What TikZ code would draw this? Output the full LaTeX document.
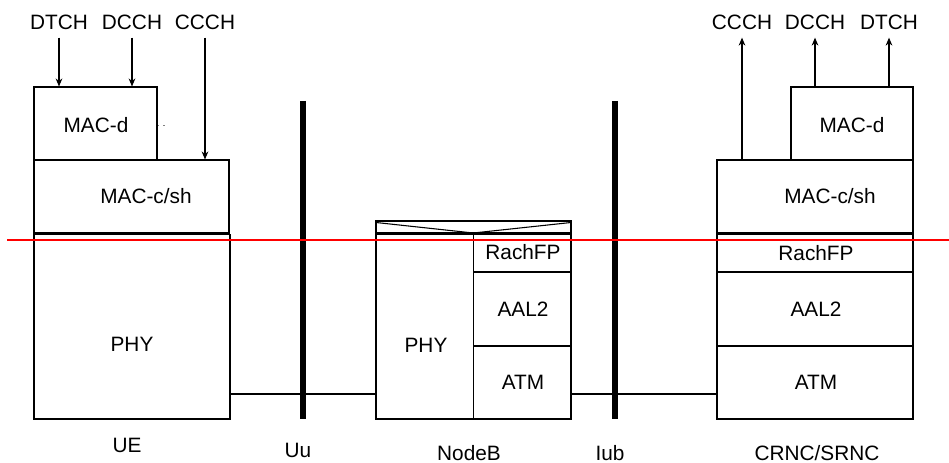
\documentclass[tikz,border=0pt]{standalone}
\usepackage{fontspec}
\setmainfont{Liberation Sans}
\usepackage{tikz}
\usetikzlibrary{arrows.meta,fit}

\tikzset{
  layer/.style={draw,line width=0.8pt,inner sep=0pt},
  txt/.style={inner sep=0.75pt,font=\fontsize{15.6}{18}\selectfont},
  chan/.style={inner sep=6pt,font=\fontsize{15.6}{18}\selectfont},
  chanarrow/.style={line width=0.8pt,-{Stealth[length=6pt,width=5pt]}},
  iface/.style={line width=4.2pt},
  link/.style={line width=0.8pt}
}

\begin{document}

\begin{tikzpicture}[x=0.75pt,y=0.75pt,yscale=-1,xscale=1]

\useasboundingbox (0,0) rectangle (949,463);

% UE
\node[layer,fit={(34,87) (157,160)}] (uemacd) {};

\node[layer,fit={(34,160) (229,233)}] (uemacc) {};

\node[layer,fit={(34,234.5) (230,419)}] (uephy) {};

\fill[gray] (157.8,125) rectangle (159.2,126.4);
\fill[gray] (163.3,125) rectangle (164.7,126.4);

\node[chan] (uedtch) at (59,22) {DTCH};
\node[chan] (uedcch) at (132,22) {DCCH};
\node[chan] (ueccch) at (205,22) {CCCH};

\draw[chanarrow] (uedtch.south) -- (uedtch.south |- uemacd.north);
\draw[chanarrow] (uedcch.south) -- (uedcch.south |- uemacd.north);
\draw[chanarrow] (ueccch.south) -- (ueccch.south |- uemacc.north);

\node[txt] (uemacdtxt) at (96,125) {MAC-d};
\node[txt] (uemacctxt) at (146,196) {MAC-c/sh};
\node[txt] (uephytxt) at (132,344) {PHY};
\node[txt] (uename) at (127,445) {UE};

% Uu
\coordinate (uutop) at (303,101);
\coordinate (uubot) at (303,419);
\draw[iface] (uutop) -- (uubot);
\node[txt] (uuname) at (298,450) {Uu};

% NodeB
\node[layer,fit={(376,221) (571,233)}] (nbtop) {};

\draw[link] (376,222.5) -- (473.3,233) -- (571,222.5);

\node[layer,fit={(376,234.5) (473.3,419)}] (nbphy) {};

\node[layer,fit={(473.3,234.5) (571,272)}] (nbfp) {};

\node[layer,fit={(473.3,272) (571,346)}] (nbaal) {};

\node[layer,fit={(473.3,346) (571,419)}] (nbatm) {};

\node[txt] (nbphytxt) at (426,345) {PHY};
\node[txt] (nbfptxt) at (523,252) {RachFP};
\node[txt] (nbaaltxt) at (523,309) {AAL2};
\node[txt] (nbatmtxt) at (523,382) {ATM};
\node[txt] (nbname) at (469,453) {NodeB};

% Iub
\coordinate (iubtop) at (615,101);
\coordinate (iubbot) at (615,419);
\draw[iface] (iubtop) -- (iubbot);
\node[txt] (iubname) at (610,453) {Iub};

% CRNC/SRNC
\node[layer,fit={(791,87) (913,160)}] (rncmacd) {};

\node[layer,fit={(717,160) (913,233)}] (rncmacc) {};

\node[layer,fit={(717,234.5) (913,272)}] (rncfp) {};

\node[layer,fit={(717,272) (913,346)}] (rncaal) {};

\node[layer,fit={(717,346) (913,419)}] (rncatm) {};

\node[chan] (rncccch) at (742,22) {CCCH};
\node[chan] (rncdcch) at (815,22) {DCCH};
\node[chan] (rncdtch) at (889,22) {DTCH};

\draw[chanarrow] (rncccch.south |- rncmacc.north) -- (rncccch.south);
\draw[chanarrow] (rncdcch.south |- rncmacd.north) -- (rncdcch.south);
\draw[chanarrow] (rncdtch.south |- rncmacd.north) -- (rncdtch.south);

\node[txt] (rncmacdtxt) at (852,125) {MAC-d};
\node[txt] (rncmacctxt) at (830,196) {MAC-c/sh};
\node[txt] (rncfptxt) at (816,253) {RachFP};
\node[txt] (rncaaltxt) at (816,309) {AAL2};
\node[txt] (rncatmtxt) at (816,382) {ATM};
\node[txt] (rncname) at (817,453) {CRNC/SRNC};

% links
\draw[link] (uephy.east |- 0,394) -- (nbphy.west |- 0,394);
\draw[link] (nbatm.east |- 0,394) -- (rncatm.west |- 0,394);

% reference line
\coordinate (refl) at (7,240);
\coordinate (refr) at (949,240);
\draw[red,line width=0.8pt] (refl) -- (refr);

\end{tikzpicture}

\end{document}
